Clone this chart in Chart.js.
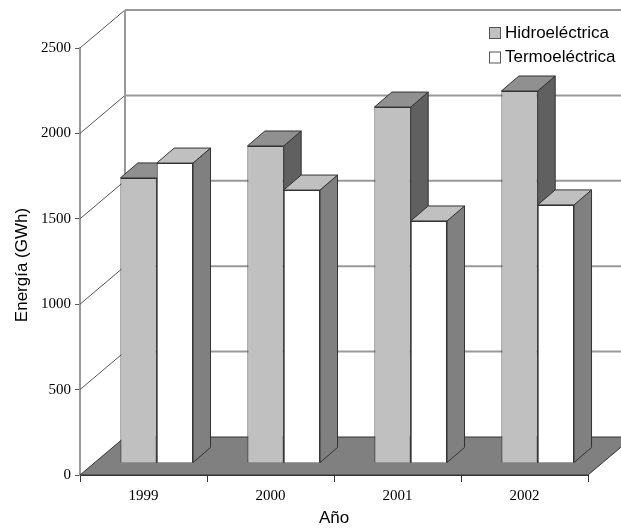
<!DOCTYPE html>
<html>
<head>
<meta charset="utf-8">
<title>Energía</title>
<script src="https://cdn.jsdelivr.net/npm/chart.js@4"></script>
<style>
  html, body { margin: 0; background: #fff; }
  canvas { display: block; }
</style>
</head>
<body>
<canvas id="bar-chart" width="621" height="529"></canvas>
<script>
const years = ['1999', '2000', '2001', '2002'];
const hidro = [1669, 1856, 2084, 2178];
const termo = [1756, 1598, 1417, 1511];
const yTicks = [0, 500, 1000, 1500, 2000, 2500];

// how the fake 3d is laid out, in pixels
const wall = { dx: 45, dy: -38 };
const barShift = { dx: 13.2, dy: -12 };
const barDepth = { dx: 17.5, dy: -15 };

const faces = [
    { top: '#909090', side: '#606060' },
    { top: '#c0c0c0', side: '#808080' }
];

function poly(ctx, pts, fill, stroke, lw) {
    ctx.beginPath();
    pts.forEach((p, i) => i ? ctx.lineTo(p[0], p[1]) : ctx.moveTo(p[0], p[1]));
    ctx.closePath();
    if (fill) { ctx.fillStyle = fill; ctx.fill(); }
    if (stroke) { ctx.strokeStyle = stroke; ctx.lineWidth = lw || 1; ctx.stroke(); }
}

function line(ctx, x1, y1, x2, y2, color, lw) {
    ctx.beginPath();
    ctx.moveTo(x1, y1);
    ctx.lineTo(x2, y2);
    ctx.strokeStyle = color;
    ctx.lineWidth = lw;
    ctx.stroke();
}

const box3d = {
    id: 'box3d',
    beforeDatasetsDraw(chart) {
        const ctx = chart.ctx;
        const xs = chart.scales.x, ys = chart.scales.y;
        const base = ys.getPixelForValue(0);
        const backX = xs.left + wall.dx;

        ctx.save();
        // walls
        yTicks.forEach(t => {
            const y = ys.getPixelForValue(t);
            if (t > 0) {
                line(ctx, xs.left, y, backX, y + wall.dy, '#555', 1);
                line(ctx, backX, y + wall.dy, xs.right + wall.dx, y + wall.dy, '#999', 2);
            }
        });
        line(ctx, backX, ys.top + wall.dy, backX, base + wall.dy, '#999', 2);

        // floor
        poly(ctx, [
            [xs.left, base], [backX, base + wall.dy],
            [xs.right + wall.dx, base + wall.dy], [xs.right, base]
        ], '#808080', '#333', 1);

        // bars, left to right in each group so the hidro side goes behind termo
        ctx.translate(barShift.dx, barShift.dy);
        const metas = [chart.getDatasetMeta(0), chart.getDatasetMeta(1)];
        years.forEach((yr, i) => {
            metas.forEach((meta, d) => {
                const el = meta.data[i];
                const l = el.x - el.width / 2, r = el.x + el.width / 2;
                const dx = barDepth.dx, dy = barDepth.dy;
                el.draw(ctx);
                poly(ctx, [[r, el.y], [r + dx, el.y + dy], [r + dx, el.base + dy], [r, el.base]],
                    faces[d].side, '#333', 1);
                poly(ctx, [[l, el.y], [l + dx, el.y + dy], [r + dx, el.y + dy], [r, el.y]],
                    faces[d].top, '#333', 1);
            });
        });
        ctx.restore();
        return false;
    },
    afterDraw(chart) {
        // legend sits over the back wall
        const ctx = chart.ctx;
        const rows = [33, 57.5];
        ctx.save();
        ctx.font = '17px "Liberation Sans", Arial, sans-serif';
        ctx.textBaseline = 'middle';
        ctx.textAlign = 'left';
        chart.data.datasets.forEach((ds, i) => {
            const y = rows[i];
            ctx.fillStyle = ds.backgroundColor;
            ctx.fillRect(489.5, y - 5.5, 11, 11);
            ctx.strokeStyle = '#555';
            ctx.lineWidth = 1;
            ctx.strokeRect(489.5, y - 5.5, 11, 11);
            ctx.fillStyle = '#000';
            ctx.fillText(ds.label, 505, y);
        });
        ctx.restore();
    }
};

new Chart('bar-chart', {
    type: 'bar',
    data: {
        labels: years,
        datasets: [
            { label: 'Hidroeléctrica', data: hidro, backgroundColor: '#c0c0c0', borderColor: '#333', borderWidth: 1 },
            { label: 'Termoeléctrica', data: termo, backgroundColor: '#ffffff', borderColor: '#333', borderWidth: 1 }
        ]
    },
    options: {
        responsive: false,
        animation: false,
        categoryPercentage: 0.572,
        barPercentage: 1,
        layout: { padding: { top: 48, right: 33, left: 12, bottom: 0 } },
        plugins: { legend: { display: false }, tooltip: { enabled: false } },
        scales: {
            x: {
                afterFit(scale) { scale.height = 54; },
                grid: { drawOnChartArea: false, tickLength: 7, tickColor: '#333' },
                border: { color: '#333', width: 1 },
                ticks: {
                    color: '#000', padding: 5, maxRotation: 0,
                    font: { family: '"Liberation Serif", serif', size: 15 }
                },
                title: {
                    display: true, text: 'Año', color: '#000', padding: { top: 0, bottom: 0 },
                    font: { family: '"Liberation Sans", Arial, sans-serif', size: 17 }
                }
            },
            y: {
                min: 0,
                max: 2500,
                afterFit(scale) { scale.width = 68; },
                // the title in the picture sits a little below the axis middle
                afterUpdate(scale) {
                    if (scale.drawTitle.shifted) return;
                    const drawTitle = scale.drawTitle;
                    scale.drawTitle = function () {
                        this.ctx.save();
                        this.ctx.translate(0, 3.5);
                        drawTitle.call(this);
                        this.ctx.restore();
                    };
                    scale.drawTitle.shifted = true;
                },
                grid: { drawOnChartArea: false, tickLength: 5, tickColor: '#555' },
                border: { color: '#999', width: 2 },
                ticks: {
                    stepSize: 500, color: '#000', padding: 4,
                    callback: v => String(v),
                    font: { family: '"Liberation Serif", serif', size: 15 }
                },
                title: {
                    display: true, text: 'Energía (GWh)', color: '#000', padding: { top: 0, bottom: 0 },
                    font: { family: '"Liberation Sans", Arial, sans-serif', size: 17 }
                }
            }
        }
    },
    plugins: [box3d]
});
</script>
</body>
</html>
